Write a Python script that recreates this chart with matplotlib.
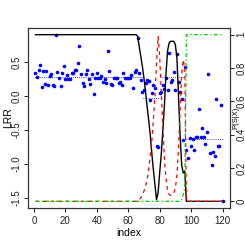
import matplotlib
matplotlib.use('Agg')
import matplotlib.pyplot as plt
import numpy as np

plt.rcParams['font.family'] = ['Liberation Sans', 'DejaVu Sans']

# LRR values per marker (index 1..120)
lrr = [0.34, 0.28, 0.38, 0.45, 0.13, 0.37, 0.17, 0.36, 0.16, 0.29,
       0.32, 0.16, 0.14, 0.90, 0.35, 0.27, 0.15, 0.33, 0.44, 0.25,
       0.30, 0.25, 0.25, 0.34, 0.33, 0.38, 0.38, 0.49, 0.73, 0.32,
       0.19, 0.15, 0.32, 0.38, 0.25, 0.17, 0.32, 0.03, 0.26, 0.33,
       0.26, 0.27, 0.29, 0.20, 0.25, 0.19, 0.66, 0.36, 0.18, 0.16,
       0.27, 0.27, 0.27, 0.19, 0.21, 0.16, 0.34, 0.27, 0.27, 0.26,
       0.27, 0.31, 0.12, 0.35, 0.38, 0.85, 0.33, 0.24, 0.06, 0.09,
       0.19, 0.24, 0.22, -0.06, 0.04, 0.16, 0.12, -0.74, -0.75, 0.04,
       0.06, 0.16, 0.10, 0.26, 0.08, 0.63, 0.20, 0.23, 0.35, 0.08,
       0.62, 0.20, 0.06, -0.05, -0.65, 0.43, -0.79, -0.91, -0.62, -0.73,
       -0.63, -0.80, -0.61, -0.60, -0.19, -0.60, -0.47, -0.61, -0.71, -0.53,
       0.32, -0.84, -1.01, -0.82, -0.89, -0.04, -0.74, -0.74, -0.14, -1.55]
index = np.arange(1, len(lrr) + 1)

# segment means of LRR: (start, end, mean)
seg_start = [1, 69.5, 80.5, 96.5]
seg_end = [69.5, 80.5, 96, 120]
seg_mean = [0.28, -0.03, 0.28, -0.63]

# posterior probabilities P(S|X) per state
p_black = [1.0] * 65 + [0.99, 0.93, 0.87, 0.81, 0.74, 0.66, 0.57, 0.49, 0.40, 0.29,
                        0.19, 0.10, 0.01, 0.05, 0.17, 0.28, 0.42, 0.57, 0.76, 0.90,
                        0.95, 0.96, 0.96, 0.96, 0.94, 0.86, 0.63, 0.40, 0.22, 0.17,
                        0.18] + [0.0] * 24
p_red = [0.0] * 66 + [0.01, 0.02, 0.04, 0.06, 0.09, 0.13, 0.19, 0.27, 0.36, 0.49,
                      0.63, 0.83, 0.99, 0.87, 0.66, 0.46, 0.26, 0.14, 0.07, 0.04,
                      0.035, 0.04, 0.05, 0.08, 0.16, 0.32, 0.55, 0.76, 0.85, 0.80] + [0.0] * 24
p_green = [0.0] * 93 + [0.01, 0.04, 0.08] + [1.0] * 24

W = 245
fig = plt.figure(figsize=(2.45, 2.45), dpi=100)
L, R, T, B = 28, 230, 28, 208
ax = fig.add_axes([L / W, (W - B) / W, (R - L) / W, (B - T) / W])

ax.plot(index, lrr, 'o', color='blue', ms=2.6, mec='none', zorder=2)
for s, e, m in zip(seg_start, seg_end, seg_mean):
    ax.plot([s, e], [m, m], color='blue', ls=(0, (1, 1.5)), lw=0.6, zorder=2)

ax.set_xlim(-3.76, 124.76)
ax.set_ylim(-1.648, 0.998)
ax.set_xticks([0, 20, 40, 60, 80, 100, 120])
ax.set_yticks([-1.5, -1.0, -0.5, 0.0, 0.5])
ax.set_yticklabels(['-1.5', '-1.0', '-0.5', '0.0', '0.5'], rotation=90, va='center')

ax2 = ax.twinx()
ax2.plot(index, p_black, color='black', lw=1.0, zorder=3)
ax2.plot(index, p_red, color='red', lw=0.9, ls=(0, (3, 3)), zorder=4)
ax2.plot(index, p_green, color='#00cc00', lw=0.9, ls=(0, (3, 2, 1, 2)), zorder=5)
ax2.set_ylim(-0.04, 1.04)
ax2.set_yticks([0, 0.2, 0.4, 0.6, 0.8, 1])
ax2.set_yticklabels(['0', '0.2', '0.4', '0.6', '0.8', '1'], rotation=90, va='center')

for a in (ax, ax2):
    for sp in a.spines.values():
        sp.set_linewidth(0.8)
        sp.set_color('#333333')
    a.tick_params(length=3, width=0.7, labelsize=7, colors='#222222')
ax.tick_params(axis='y', pad=1.5)
ax.tick_params(axis='x', pad=2.5)
ax2.tick_params(axis='y', pad=1.5)

fig.text(129 / W, 1 - 233 / W, 'index', ha='center', va='center', fontsize=7.5)
fig.text(8 / W, 1 - 118 / W, 'LRR', ha='center', va='center', rotation=90, fontsize=7.5)
fig.text(236 / W, 1 - 118 / W, 'P(S|X)', ha='center', va='center', rotation=90, fontsize=5.5)

fig.savefig('out.png', dpi=100)
